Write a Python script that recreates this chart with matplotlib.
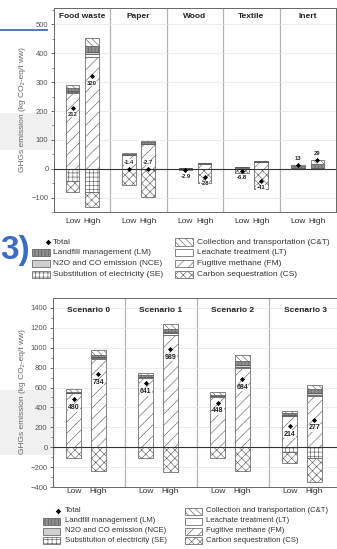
import numpy as np
import matplotlib
matplotlib.use('Agg')
import matplotlib.pyplot as plt
from matplotlib.patches import Rectangle
from matplotlib.lines import Line2D

plt.rcParams['font.family'] = ['Liberation Sans', 'DejaVu Sans']
plt.rcParams['hatch.linewidth'] = 0.4

W, H = 337, 549

# --- upper chart: waste fractions (Low / High per fraction) ---
waste_types = ['Food waste', 'Paper', 'Wood', 'Textile', 'Inert']
cases = ['Low', 'High']
w_fm = [262, 388, 46, 84, 1.5, 15, 4, 22, 0, 0]
w_lt = [4, 8, 2, 2, 0.5, 1, 1, 1, 1, 2]
w_nce = [4, 9, 0, 0, 0, 0, 0, 0, 0, 0]
w_lm = [10, 20, 4, 6, 1, 3, 1.5, 3, 8, 15]
w_ct = [11, 27, 2, 5, 0, 1, 0.5, 2, 5, 12]
w_se = [-42, -80, 0, 0, 0, 0, 0, 0, 0, 0]
w_cs = [-37, -52, -55.4, -99.7, -5.9, -48, -13.8, -69, -1, 0]
w_total = [212, 320, -1.4, -2.7, -2.9, -28, -6.8, -41, 13, 29]
w_total_txt = ['212', '320', '-1.4', '-2.7', '-2.9', '-28', '-6.8', '-41', '13', '29']

# --- lower chart: scenarios ---
scenarios = ['Scenario 0', 'Scenario 1', 'Scenario 2', 'Scenario 3']
s_fm = [540, 890, 700, 1125, 505, 795, 310, 510]
s_lt = [5, 10, 10, 20, 7, 15, 8, 15]
s_nce = [0, 5, 0, 17, 0, 15, 7, 15]
s_lm = [13, 20, 15, 26, 13, 40, 20, 45]
s_ct = [27, 52, 21, 47, 28, 59, 24, 37]
s_se = [0, 0, 0, 0, 0, 0, -50, -105]
s_cs = [-105, -243, -105, -246, -105, -240, -105, -240]
s_total = [480, 734, 641, 989, 448, 684, 214, 277]

legend_left = [('Total', None), ('Landfill management (LM)', 'LM'),
               ('N2O and CO emission (NCE)', 'NCE'), ('Substitution of electricity (SE)', 'SE')]
legend_right = [('Collection and transportation (C&T)', 'CT'), ('Leachate treatment (LT)', 'LT'),
                ('Fugitive methane (FM)', 'FM'), ('Carbon sequestration (CS)', 'CS')]

styles = {
    'FM': dict(facecolor='white', hatch='///'),
    'LT': dict(facecolor='white'),
    'NCE': dict(facecolor='#cfcfcf'),
    'LM': dict(facecolor='#8e8e8e', hatch='|||||'),
    'CT': dict(facecolor='white', hatch='\\\\\\\\\\'),
    'SE': dict(facecolor='white', hatch='++++'),
    'CS': dict(facecolor='white', hatch='xxxx'),
}
EDGE = '#555555'


def fx(x):
    return x / W


def fy(y):
    return 1 - y / H


def stack(ax, xs, width, pos, neg):
    xs = np.asarray(xs)
    for parts in (pos, neg):
        bottom = np.zeros(len(xs))
        for key, vals in parts:
            vals = np.asarray(vals, dtype=float)
            m = vals != 0
            ax.bar(xs[m], vals[m], width, bottom=bottom[m], edgecolor=EDGE,
                   linewidth=0.5, zorder=3, **styles[key])
            bottom += vals


def frame(ax, groups, ylim, major, minor, head_y):
    n = len(groups)
    ax.set_xlim(0, n)
    ax.set_ylim(*ylim)
    ax.set_yticks(np.arange(major[0], major[1] + 1, major[2]))
    ax.set_yticks(np.arange(ylim[0], ylim[1], minor), minor=True)
    ax.grid(axis='y', color='#e4e4e4', lw=0.5, zorder=0)
    ax.axhline(0, color='#333333', lw=0.8, zorder=4)
    for i in range(1, n):
        ax.axvline(i, color='#b4b4b4', lw=0.9, zorder=1)
    for i, g in enumerate(groups):
        ax.text(i + 0.5, head_y, g, transform=ax.get_xaxis_transform(),
                ha='center', va='center', fontsize=6, fontweight='bold', color='#222222')
    for s in ax.spines.values():
        s.set_color('#666666')
        s.set_linewidth(0.7)
    ax.tick_params(axis='y', which='major', direction='out', length=2.5, width=0.6,
                   labelsize=5.5, colors='#555555', pad=1.5)
    ax.tick_params(axis='y', which='minor', direction='out', length=1.5, width=0.5,
                   colors='#555555')


def totals(ax, xs, vals, txts, above, fs, off):
    ax.plot(xs, vals, 'D', ms=2.6, color='black', zorder=6, markeredgewidth=0)
    for x, v, t, a in zip(xs, vals, txts, above):
        ax.annotate(t, (x, v), xytext=(0, off if a else -off), textcoords='offset points',
                    ha='center', va='center', fontsize=fs, fontweight='bold', color='#222222',
                    zorder=7, bbox=dict(facecolor='white', edgecolor='none', pad=0.2, alpha=0.85))


def legend_block(fig, x_rect, x_text, x_rect2, x_text2, rows, rw, rh, fs):
    for col, xr, xt in ((legend_left, x_rect, x_text), (legend_right, x_rect2, x_text2)):
        for (label, key), y in zip(col, rows):
            if key is None:
                fig.add_artist(Line2D([fx(xr + rw - 2)], [fy(y)], marker='D', ms=2.8,
                                      color='black', markeredgewidth=0))
            else:
                fig.add_artist(Rectangle((fx(xr), fy(y + rh / 2)), rw / W, rh / H,
                                         transform=fig.transFigure, edgecolor=EDGE,
                                         linewidth=0.5, **styles[key]))
            fig.text(fx(xt), fy(y), label, ha='left', va='center', fontsize=fs, color='#333333')


fig = plt.figure(figsize=(W / 100, H / 100), dpi=100)

# screenshot leftovers around the figure
fig.add_artist(Rectangle((0, fy(150)), fx(53), 37 / H, transform=fig.transFigure,
                         facecolor='#f0f0f0', edgecolor='none', zorder=0))
fig.add_artist(Rectangle((0, fy(455)), fx(56), 65 / H, transform=fig.transFigure,
                         facecolor='#f0f0f0', edgecolor='none', zorder=0))
fig.add_artist(Line2D([0, fx(47)], [fy(30), fy(30)], color='#5078c0', lw=1.4))
fig.text(fx(0.5), fy(250), '3)', fontsize=24, fontweight='bold', color='#3b6cc4',
         ha='left', va='center')

# upper chart
ax1 = fig.add_axes([fx(54), fy(212), (336 - 54) / W, (212 - 8) / H])
ax1.patch.set_alpha(0)
n1 = len(waste_types)
x1 = np.array([[i + 0.33, i + 0.67] for i in range(n1)]).ravel()
frame(ax1, waste_types, (-150, 557), (-100, 500, 100), 50, 1 - 9 / 204)
stack(ax1, x1, 0.24,
      [('FM', w_fm), ('LT', w_lt), ('NCE', w_nce), ('LM', w_lm), ('CT', w_ct)],
      [('SE', w_se), ('CS', w_cs)])
above1 = [waste_types[i // 2] in ('Paper', 'Inert') for i in range(len(x1))]
totals(ax1, x1, w_total, w_total_txt, above1, 4.2, 5)
ax1.set_xticks(x1)
ax1.set_xticklabels(cases * n1)
ax1.tick_params(axis='x', length=0, labelsize=6, colors='#333333', pad=4)
fig.text(fx(22), fy(110), 'GHGs emission (kg CO₂-eq/t ww)', rotation=90,
         ha='center', va='center', fontsize=6, color='#666666')

legend_block(fig, 32, 53, 175, 197, [242, 252.5, 263.5, 274.5], 18, 7, 6)

# lower chart
ax2 = fig.add_axes([fx(53), fy(487), (341 - 53) / W, (487 - 298) / H])
ax2.patch.set_alpha(0)
n2 = len(scenarios)
x2 = np.array([[i + 0.29, i + 0.63] for i in range(n2)]).ravel()
frame(ax2, scenarios, (-400, 1500), (-400, 1400, 200), 100, 1 - 12 / 189)
stack(ax2, x2, 0.21,
      [('FM', s_fm), ('LT', s_lt), ('NCE', s_nce), ('LM', s_lm), ('CT', s_ct)],
      [('SE', s_se), ('CS', s_cs)])
totals(ax2, x2, s_total, [str(v) for v in s_total], [False] * len(x2), 5, 6)
ax2.set_xticks(x2)
ax2.set_xticklabels(cases * n2)
ax2.tick_params(axis='x', length=0, labelsize=6, colors='#333333', pad=1)
fig.text(fx(22), fy(392), 'GHGs emission (kg CO₂-eq/t ww)', rotation=90,
         ha='center', va='center', fontsize=6, color='#666666')

legend_block(fig, 43, 65, 185, 206, [511, 521, 531, 540], 17, 7, 5.6)

fig.savefig('out.png', dpi=100)
